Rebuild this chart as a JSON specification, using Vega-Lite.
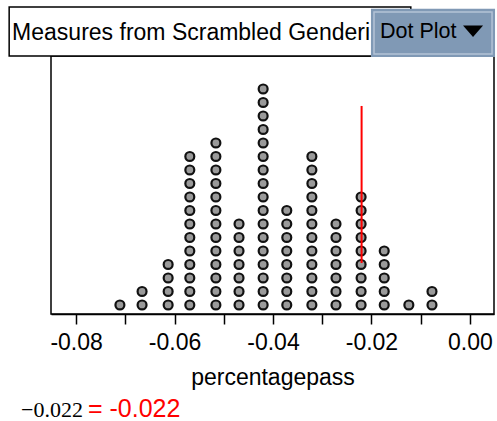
{
  "$schema": "https://vega.github.io/schema/vega-lite/v6.json",
  "width": 443,
  "height": 258,
  "autosize": "none",
  "padding": {"left": 51, "top": 56, "right": 3, "bottom": 107},
  "background": "white",
  "config": {"view": {"stroke": "black", "strokeWidth": 1.5}, "font": "Liberation Sans"},
  "data": {"values": [
    {"pp": -0.0711},
    {"pp": -0.0666}, {"pp": -0.0666},
    {"pp": -0.0613}, {"pp": -0.0613}, {"pp": -0.0613}, {"pp": -0.0613},
    {"pp": -0.0569}, {"pp": -0.0569}, {"pp": -0.0569}, {"pp": -0.0569}, {"pp": -0.0569}, {"pp": -0.0569},
    {"pp": -0.0569}, {"pp": -0.0569}, {"pp": -0.0569}, {"pp": -0.0569}, {"pp": -0.0569}, {"pp": -0.0569},
    {"pp": -0.0516}, {"pp": -0.0516}, {"pp": -0.0516}, {"pp": -0.0516}, {"pp": -0.0516}, {"pp": -0.0516}, {"pp": -0.0516},
    {"pp": -0.0516}, {"pp": -0.0516}, {"pp": -0.0516}, {"pp": -0.0516}, {"pp": -0.0516}, {"pp": -0.0516},
    {"pp": -0.0469}, {"pp": -0.0469}, {"pp": -0.0469}, {"pp": -0.0469}, {"pp": -0.0469}, {"pp": -0.0469}, {"pp": -0.0469},
    {"pp": -0.0420}, {"pp": -0.0420}, {"pp": -0.0420}, {"pp": -0.0420}, {"pp": -0.0420}, {"pp": -0.0420}, {"pp": -0.0420},
    {"pp": -0.0420}, {"pp": -0.0420}, {"pp": -0.0420}, {"pp": -0.0420}, {"pp": -0.0420}, {"pp": -0.0420}, {"pp": -0.0420},
    {"pp": -0.0420}, {"pp": -0.0420}, {"pp": -0.0420},
    {"pp": -0.0372}, {"pp": -0.0372}, {"pp": -0.0372}, {"pp": -0.0372}, {"pp": -0.0372}, {"pp": -0.0372}, {"pp": -0.0372}, {"pp": -0.0372},
    {"pp": -0.0321}, {"pp": -0.0321}, {"pp": -0.0321}, {"pp": -0.0321}, {"pp": -0.0321}, {"pp": -0.0321},
    {"pp": -0.0321}, {"pp": -0.0321}, {"pp": -0.0321}, {"pp": -0.0321}, {"pp": -0.0321}, {"pp": -0.0321},
    {"pp": -0.0272}, {"pp": -0.0272}, {"pp": -0.0272}, {"pp": -0.0272}, {"pp": -0.0272}, {"pp": -0.0272}, {"pp": -0.0272},
    {"pp": -0.0221}, {"pp": -0.0221}, {"pp": -0.0221}, {"pp": -0.0221}, {"pp": -0.0221}, {"pp": -0.0221}, {"pp": -0.0221}, {"pp": -0.0221}, {"pp": -0.0221},
    {"pp": -0.0174}, {"pp": -0.0174}, {"pp": -0.0174}, {"pp": -0.0174}, {"pp": -0.0174},
    {"pp": -0.0124},
    {"pp": -0.0077}, {"pp": -0.0077}
  ]},
  "layer": [
    {
      "transform": [{"window": [{"op": "row_number", "as": "k"}], "groupby": ["pp"]}],
      "mark": {"type": "point", "shape": "circle", "filled": true, "size": 80, "fill": "#9a9a9a", "stroke": "#111111", "strokeWidth": 2.2, "opacity": 1},
      "encoding": {
        "x": {"field": "pp", "type": "quantitative",
          "scale": {"domain": [-0.0851, 0.0049], "nice": false, "zero": false},
          "axis": {"title": "percentagepass", "values": [-0.08, -0.07, -0.06, -0.05, -0.04, -0.03, -0.02, -0.01, 0],
            "labelExpr": "abs(round(datum.value*100)) % 2 == 0 ? replace(format(datum.value, '.2f'), '\u2212', '-') : ''",
            "grid": false, "domainColor": "black", "domainWidth": 1.5, "tickColor": "black", "tickWidth": 1.5, "tickSize": 10,
            "labelFont": "Liberation Sans", "labelFontSize": 23, "labelColor": "black", "labelPadding": 7, "labelFlush": false, "labelOverlap": false,
            "titleFont": "Liberation Sans", "titleFontSize": 23, "titleFontWeight": "normal", "titleColor": "black", "titlePadding": 12}},
        "y": {"field": "k", "type": "quantitative", "scale": {"domain": [0.333, 19.44], "nice": false, "zero": false}, "axis": null}
      }
    },
    {
      "data": {"values": [{"stat": -0.022, "lo": 4.11, "hi": 15.74}]},
      "mark": {"type": "rule", "color": "#ff0000", "strokeWidth": 2},
      "encoding": {
        "x": {"field": "stat", "type": "quantitative"},
        "y": {"field": "lo", "type": "quantitative"},
        "y2": {"field": "hi"}
      }
    },
    {
      "data": {"values": [{"label": "Measures from Scrambled Genderi"}]},
      "layer": [
        {
          "mark": {"type": "rect", "fill": "white", "stroke": "black", "strokeWidth": 1.5},
          "encoding": {
            "x": {"datum": -0.0936, "type": "quantitative"},
            "x2": {"datum": -0.0120},
            "y": {"datum": 23.07, "type": "quantitative"},
            "y2": {"datum": 19.44}
          }
        },
        {
          "mark": {"type": "text", "align": "left", "baseline": "middle", "fontSize": 23, "font": "Liberation Sans", "color": "black"},
          "encoding": {
            "x": {"datum": -0.0930, "type": "quantitative"},
            "y": {"datum": 21.15, "type": "quantitative"},
            "text": {"field": "label"}
          }
        }
      ]
    },
    {
      "data": {"values": [{"label": "Dot Plot"}]},
      "layer": [
        {
          "mark": {"type": "rect", "fill": "#8099b5"},
          "encoding": {
            "x": {"datum": -0.0201, "type": "quantitative"},
            "x2": {"datum": 0.00511},
            "y": {"datum": 22.93, "type": "quantitative"},
            "y2": {"datum": 19.37}
          }
        },
        {
          "mark": {"type": "rect", "fill": null, "stroke": "#b4c3d6", "strokeWidth": 1.5},
          "encoding": {
            "x": {"datum": -0.01948, "type": "quantitative"},
            "x2": {"datum": 0.0045},
            "y": {"datum": 22.70, "type": "quantitative"},
            "y2": {"datum": 19.59}
          }
        },
        {
          "mark": {"type": "text", "align": "left", "baseline": "middle", "fontSize": 21.5, "font": "Liberation Sans", "color": "black"},
          "encoding": {
            "x": {"datum": -0.01826, "type": "quantitative"},
            "y": {"datum": 21.22, "type": "quantitative"},
            "text": {"field": "label"}
          }
        },
        {
          "mark": {"type": "point", "shape": "M-1,-0.55L1,-0.55L0,0.6Z", "filled": true, "color": "black", "size": 400, "opacity": 1},
          "encoding": {
            "x": {"datum": 0.00064, "type": "quantitative"},
            "y": {"datum": 21.3, "type": "quantitative"}
          }
        }
      ]
    },
    {
      "data": {"values": [{"label": "\u22120.022"}]},
      "mark": {"type": "text", "align": "left", "baseline": "alphabetic", "fontSize": 22, "font": "Liberation Serif", "color": "black"},
      "encoding": {
        "x": {"datum": -0.0912, "type": "quantitative"},
        "y": {"datum": -7.30, "type": "quantitative"},
        "text": {"field": "label"}
      }
    },
    {
      "data": {"values": [{"label": "= -0.022"}]},
      "mark": {"type": "text", "align": "left", "baseline": "alphabetic", "fontSize": 25, "font": "Liberation Sans", "color": "#ff0000"},
      "encoding": {
        "x": {"datum": -0.0776, "type": "quantitative"},
        "y": {"datum": -7.30, "type": "quantitative"},
        "text": {"field": "label"}
      }
    }
  ]
}
